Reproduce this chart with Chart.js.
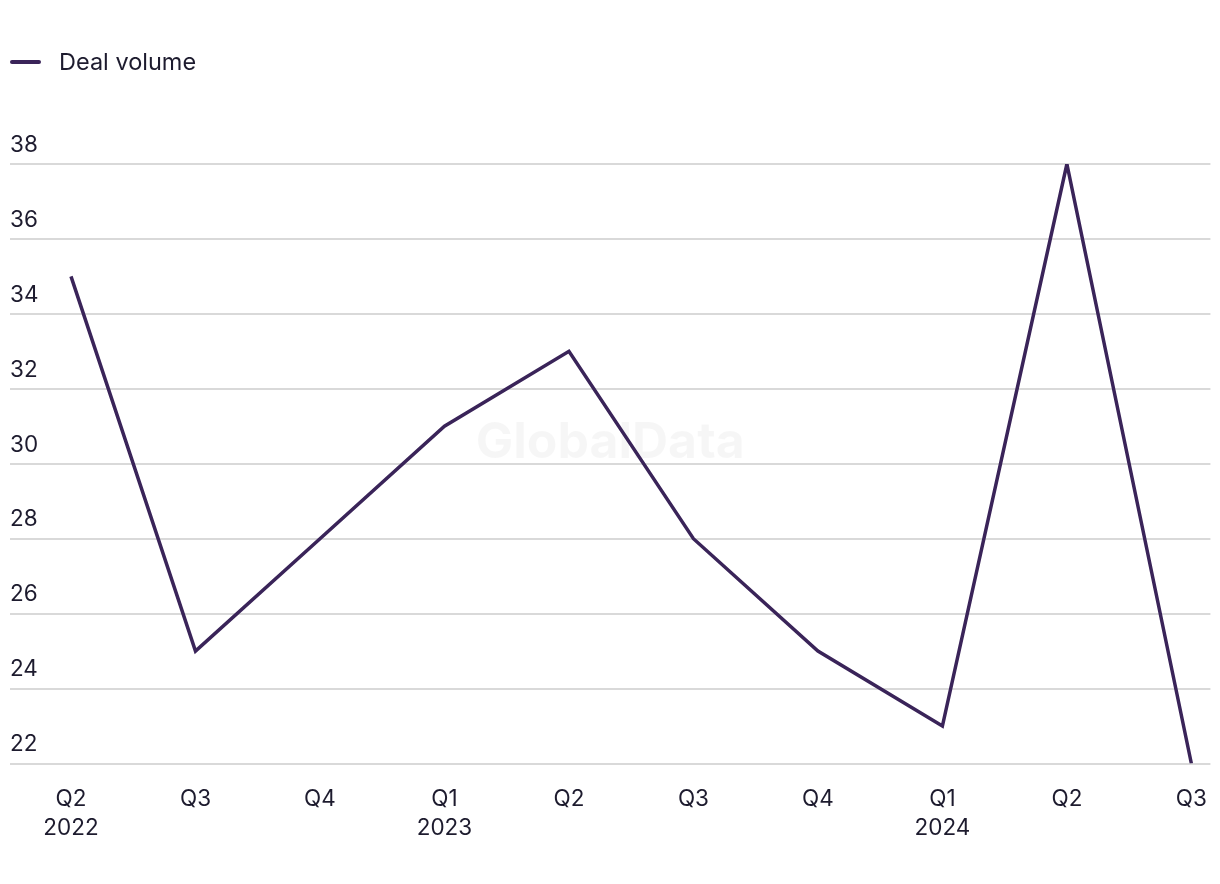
<!DOCTYPE html>
<html>
<head>
<meta charset="utf-8">
<script src="https://cdn.jsdelivr.net/npm/chart.js@4.4.1/dist/chart.umd.min.js"></script>
<style>
  html, body { margin: 0; padding: 0; background: #fff; }
  #wrap { position: relative; width: 1220px; height: 884px; }
  #legend { position: absolute; left: 10px; top: 47px; font: 23.5px 'Inter', sans-serif; color: #1d1b2e; display: flex; align-items: center; }
  #legend .swatch { width: 31px; height: 4px; border-radius: 2px; background: #3a2459; margin-right: 18px; }
</style>
</head>
<body>
<div id="wrap">
  <div id="legend"><span class="swatch"></span><span>Deal volume</span></div>
  <canvas id="chart" width="1220" height="884"></canvas>
</div>
<script>
// Data
const quarters = ['Q2', 'Q3', 'Q4', 'Q1', 'Q2', 'Q3', 'Q4', 'Q1', 'Q2', 'Q3'];
const years = ['2022', '', '', '2023', '', '', '', '2024', '', ''];
const dealVolume = [35, 25, 28, 31, 33, 28, 25, 23, 38, 22];
const yTicks = [22, 24, 26, 28, 30, 32, 34, 36, 38];

const lineColor = '#3a2459';
const textColor = '#1d1b2e';

// faint watermark in the middle of the plot
const watermark = {
    id: 'watermark',
    beforeDatasetsDraw(chart) {
        const { ctx, chartArea } = chart;
        ctx.save();
        ctx.font = "bold 50px 'Inter', sans-serif";
        ctx.fillStyle = 'rgba(0,0,0,0.035)';
        ctx.textAlign = 'center';
        ctx.textBaseline = 'middle';
        ctx.fillText('GlobalData', (chartArea.left + chartArea.right) / 2, 443);
        ctx.restore();
    }
};

const ctx = document.getElementById('chart').getContext('2d');
new Chart(ctx, {
    type: 'line',
    data: {
        datasets: [{
            label: 'Deal volume',
            data: dealVolume.map((v, i) => ({ x: i, y: v })),
            borderColor: lineColor,
            borderWidth: 3.5,
            pointRadius: 0,
            tension: 0,
            fill: false
        }]
    },
    options: {
        responsive: false,
        animation: false,
        layout: { padding: { left: 10, right: 5, top: 164, bottom: 28 } },
        scales: {
            x: {
                type: 'linear',
                min: -0.49,
                max: 9.153,
                afterBuildTicks: scale => { scale.ticks = quarters.map((_, i) => ({ value: i })); },
                grid: { display: false },
                border: { display: false },
                ticks: {
                    autoSkip: false,
                    maxRotation: 0,
                    padding: 13,
                    color: textColor,
                    font: { family: "'Inter', sans-serif", size: 22.5, lineHeight: 1.3 },
                    callback: v => years[v] ? [quarters[v], years[v]] : quarters[v]
                }
            },
            y: {
                min: 22,
                max: 38,
                afterBuildTicks: scale => { scale.ticks = yTicks.map(v => ({ value: v })); },
                grid: { color: '#d9d9d9', lineWidth: 2, drawTicks: false },
                border: { display: false },
                ticks: {
                    mirror: true,
                    padding: 0,
                    labelOffset: -19,
                    color: textColor,
                    font: { family: "'Inter', sans-serif", size: 22.5 }
                }
            }
        },
        plugins: {
            legend: { display: false },
            tooltip: { enabled: false }
        }
    },
    plugins: [watermark]
});
</script>
</body>
</html>
